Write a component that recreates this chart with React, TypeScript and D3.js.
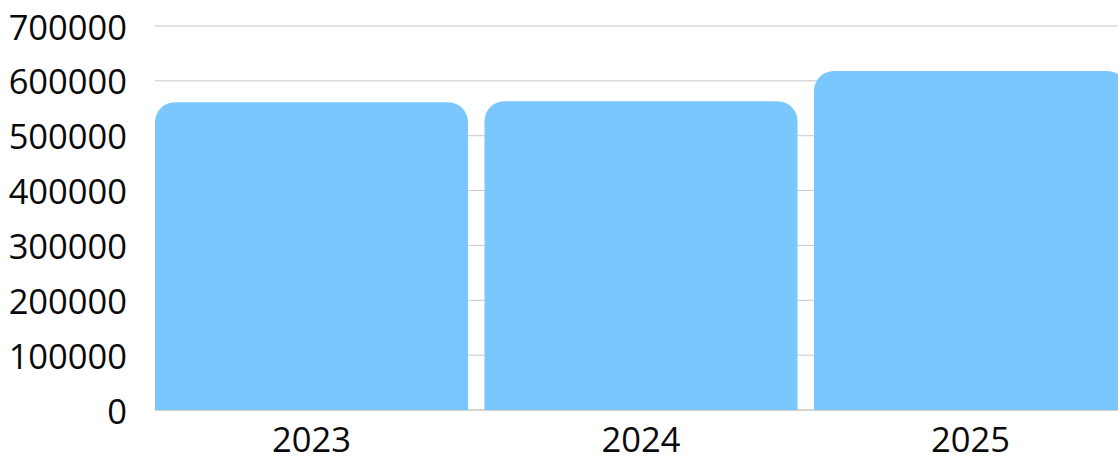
import React from "react";
import * as d3 from "d3";

const categories = ["2023", "2024", "2025"];
const values = [561000, 563000, 618000];
const yTicks = [0, 100000, 200000, 300000, 400000, 500000, 600000, 700000];

const W = 1118;
const H = 459;
const left = 155;
const top = 26;
const bottom = 410;
const r = 20;

function topRounded(x: number, y: number, w: number, h: number, rad: number) {
  const rr = Math.min(rad, w / 2, h);
  return `M${x},${y + h}V${y + rr}A${rr},${rr} 0 0 1 ${x + rr},${y}H${x + w - rr}A${rr},${rr} 0 0 1 ${x + w},${y + rr}V${y + h}Z`;
}

export default function App() {
  const x = d3.scaleBand<string>().domain(categories).range([left, 1127]).paddingInner(0.05).paddingOuter(0);
  const y = d3.scaleLinear().domain([0, 700000]).range([bottom, top]);
  const font = "'Open Sans', 'Noto Sans', sans-serif";
  return (
    <svg width={W} height={H} style={{ position: "absolute", left: 0, top: 0 }}>
      {yTicks.map((t) => (
        <g key={t}>
          {t > 0 && <line x1={left} x2={W} y1={y(t)} y2={y(t)} stroke="#c8c8c8" strokeWidth={1} />}
          <text x={127} y={y(t)} textAnchor="end" dominantBaseline="central" fontFamily={font} fontSize={34.5} fill="#0a0a0a">
            {t}
          </text>
        </g>
      ))}
      <line x1={left} x2={W} y1={bottom} y2={bottom} stroke="#aaaaaa" strokeWidth={1} />
      {categories.map((c, i) => (
        <path key={c} d={topRounded(x(c)!, y(values[i]), x.bandwidth(), bottom - y(values[i]), r)} fill="#79c7fd" />
      ))}
      {categories.map((c) => (
        <text key={c} x={x(c)! + x.bandwidth() / 2} y={452} textAnchor="middle" fontFamily={font} fontSize={34.5} fill="#0a0a0a">
          {c}
        </text>
      ))}
    </svg>
  );
}
